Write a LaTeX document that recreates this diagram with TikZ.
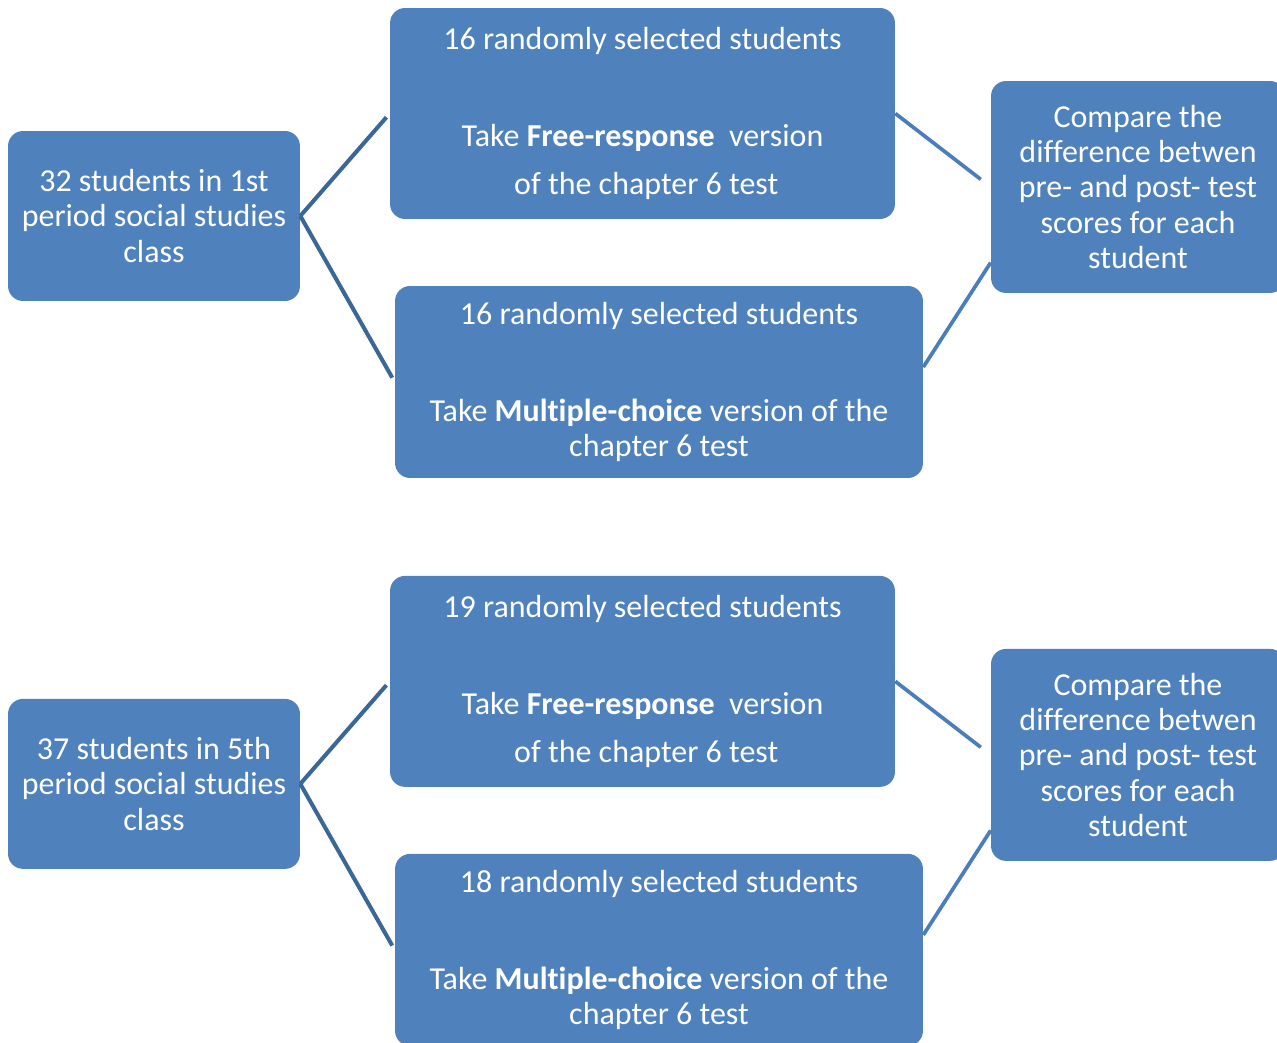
\documentclass[tikz,border=0pt]{standalone}
\usepackage{fontspec}
\setmainfont{Carlito}[Ligatures=NoCommon]
\usepackage{tikz}
\usetikzlibrary{positioning}

\definecolor{boxblue}{HTML}{4F81BD}
\definecolor{darkline}{HTML}{3A6796}
\definecolor{lightline}{HTML}{4A7EBB}

\begin{document}
\begin{tikzpicture}[x=0.02cm, y=-0.02cm,
      box/.style={rectangle, fill=boxblue, rounded corners=0.3cm, inner sep=0pt,
        align=center, text=white, font=\fontsize{18.2}{20}\selectfont},
      split/.style={draw=darkline, line width=2.3pt, shorten >=0.1cm},
      merge/.style={draw=lightline, line width=2.1pt}
    ]
    \useasboundingbox (0,0) rectangle (1277,1043);

    % --- 1st period ---
    \begin{scope}
      \node[box, minimum width=5.84cm, minimum height=3.4cm] (cls1) at (154,216)
        {32 students in 1st\\period social studies\\class};
      \node[box, minimum width=10.1cm, minimum height=4.22cm] (free1) at (642.5,113.5)
        {16 randomly selected students\\[35.2pt]
         Take \textbf{Free-response}\ \ version\\[7.6pt]
         \hspace*{0.15cm}of the chapter 6 test};
      \node[box, minimum width=10.56cm, minimum height=3.84cm] (mult1) at (659,382)
        {16 randomly selected students\\[35.2pt]
         Take \textbf{Multiple-choice} version of the\\
         chapter 6 test};
      \node[box, minimum width=5.88cm, minimum height=4.24cm] (cmp1) at (1138,187)
        {Compare the\\difference betwen\\pre- and post- test\\scores for each\\student};

      \draw[split] (cls1.east) -- (free1.west);
      \draw[split] (cls1.east) -- (mult1.west);
      \draw[merge, shorten >=0.25cm] (free1.east) -- (cmp1.west);
      \draw[merge] ([yshift=8.5pt]mult1.east) -- ([yshift=-43pt]cmp1.west);
    \end{scope}

    % --- 5th period ---
    \begin{scope}[yshift=-11.36cm]
      \node[box, minimum width=5.84cm, minimum height=3.4cm] (cls2) at (154,216)
        {37 students in 5th\\period social studies\\class};
      \node[box, minimum width=10.1cm, minimum height=4.22cm] (free2) at (642.5,113.5)
        {19 randomly selected students\\[35.2pt]
         Take \textbf{Free-response}\ \ version\\[7.6pt]
         \hspace*{0.15cm}of the chapter 6 test};
      \node[box, minimum width=10.56cm, minimum height=3.84cm] (mult2) at (659,382)
        {18 randomly selected students\\[35.2pt]
         Take \textbf{Multiple-choice} version of the\\
         chapter 6 test};
      \node[box, minimum width=5.88cm, minimum height=4.24cm] (cmp2) at (1138,187)
        {Compare the\\difference betwen\\pre- and post- test\\scores for each\\student};

      \draw[split] (cls2.east) -- (free2.west);
      \draw[split] (cls2.east) -- (mult2.west);
      \draw[merge, shorten >=0.25cm] (free2.east) -- (cmp2.west);
      \draw[merge] ([yshift=8.5pt]mult2.east) -- ([yshift=-43pt]cmp2.west);
    \end{scope}
  \end{tikzpicture}
\end{document}
